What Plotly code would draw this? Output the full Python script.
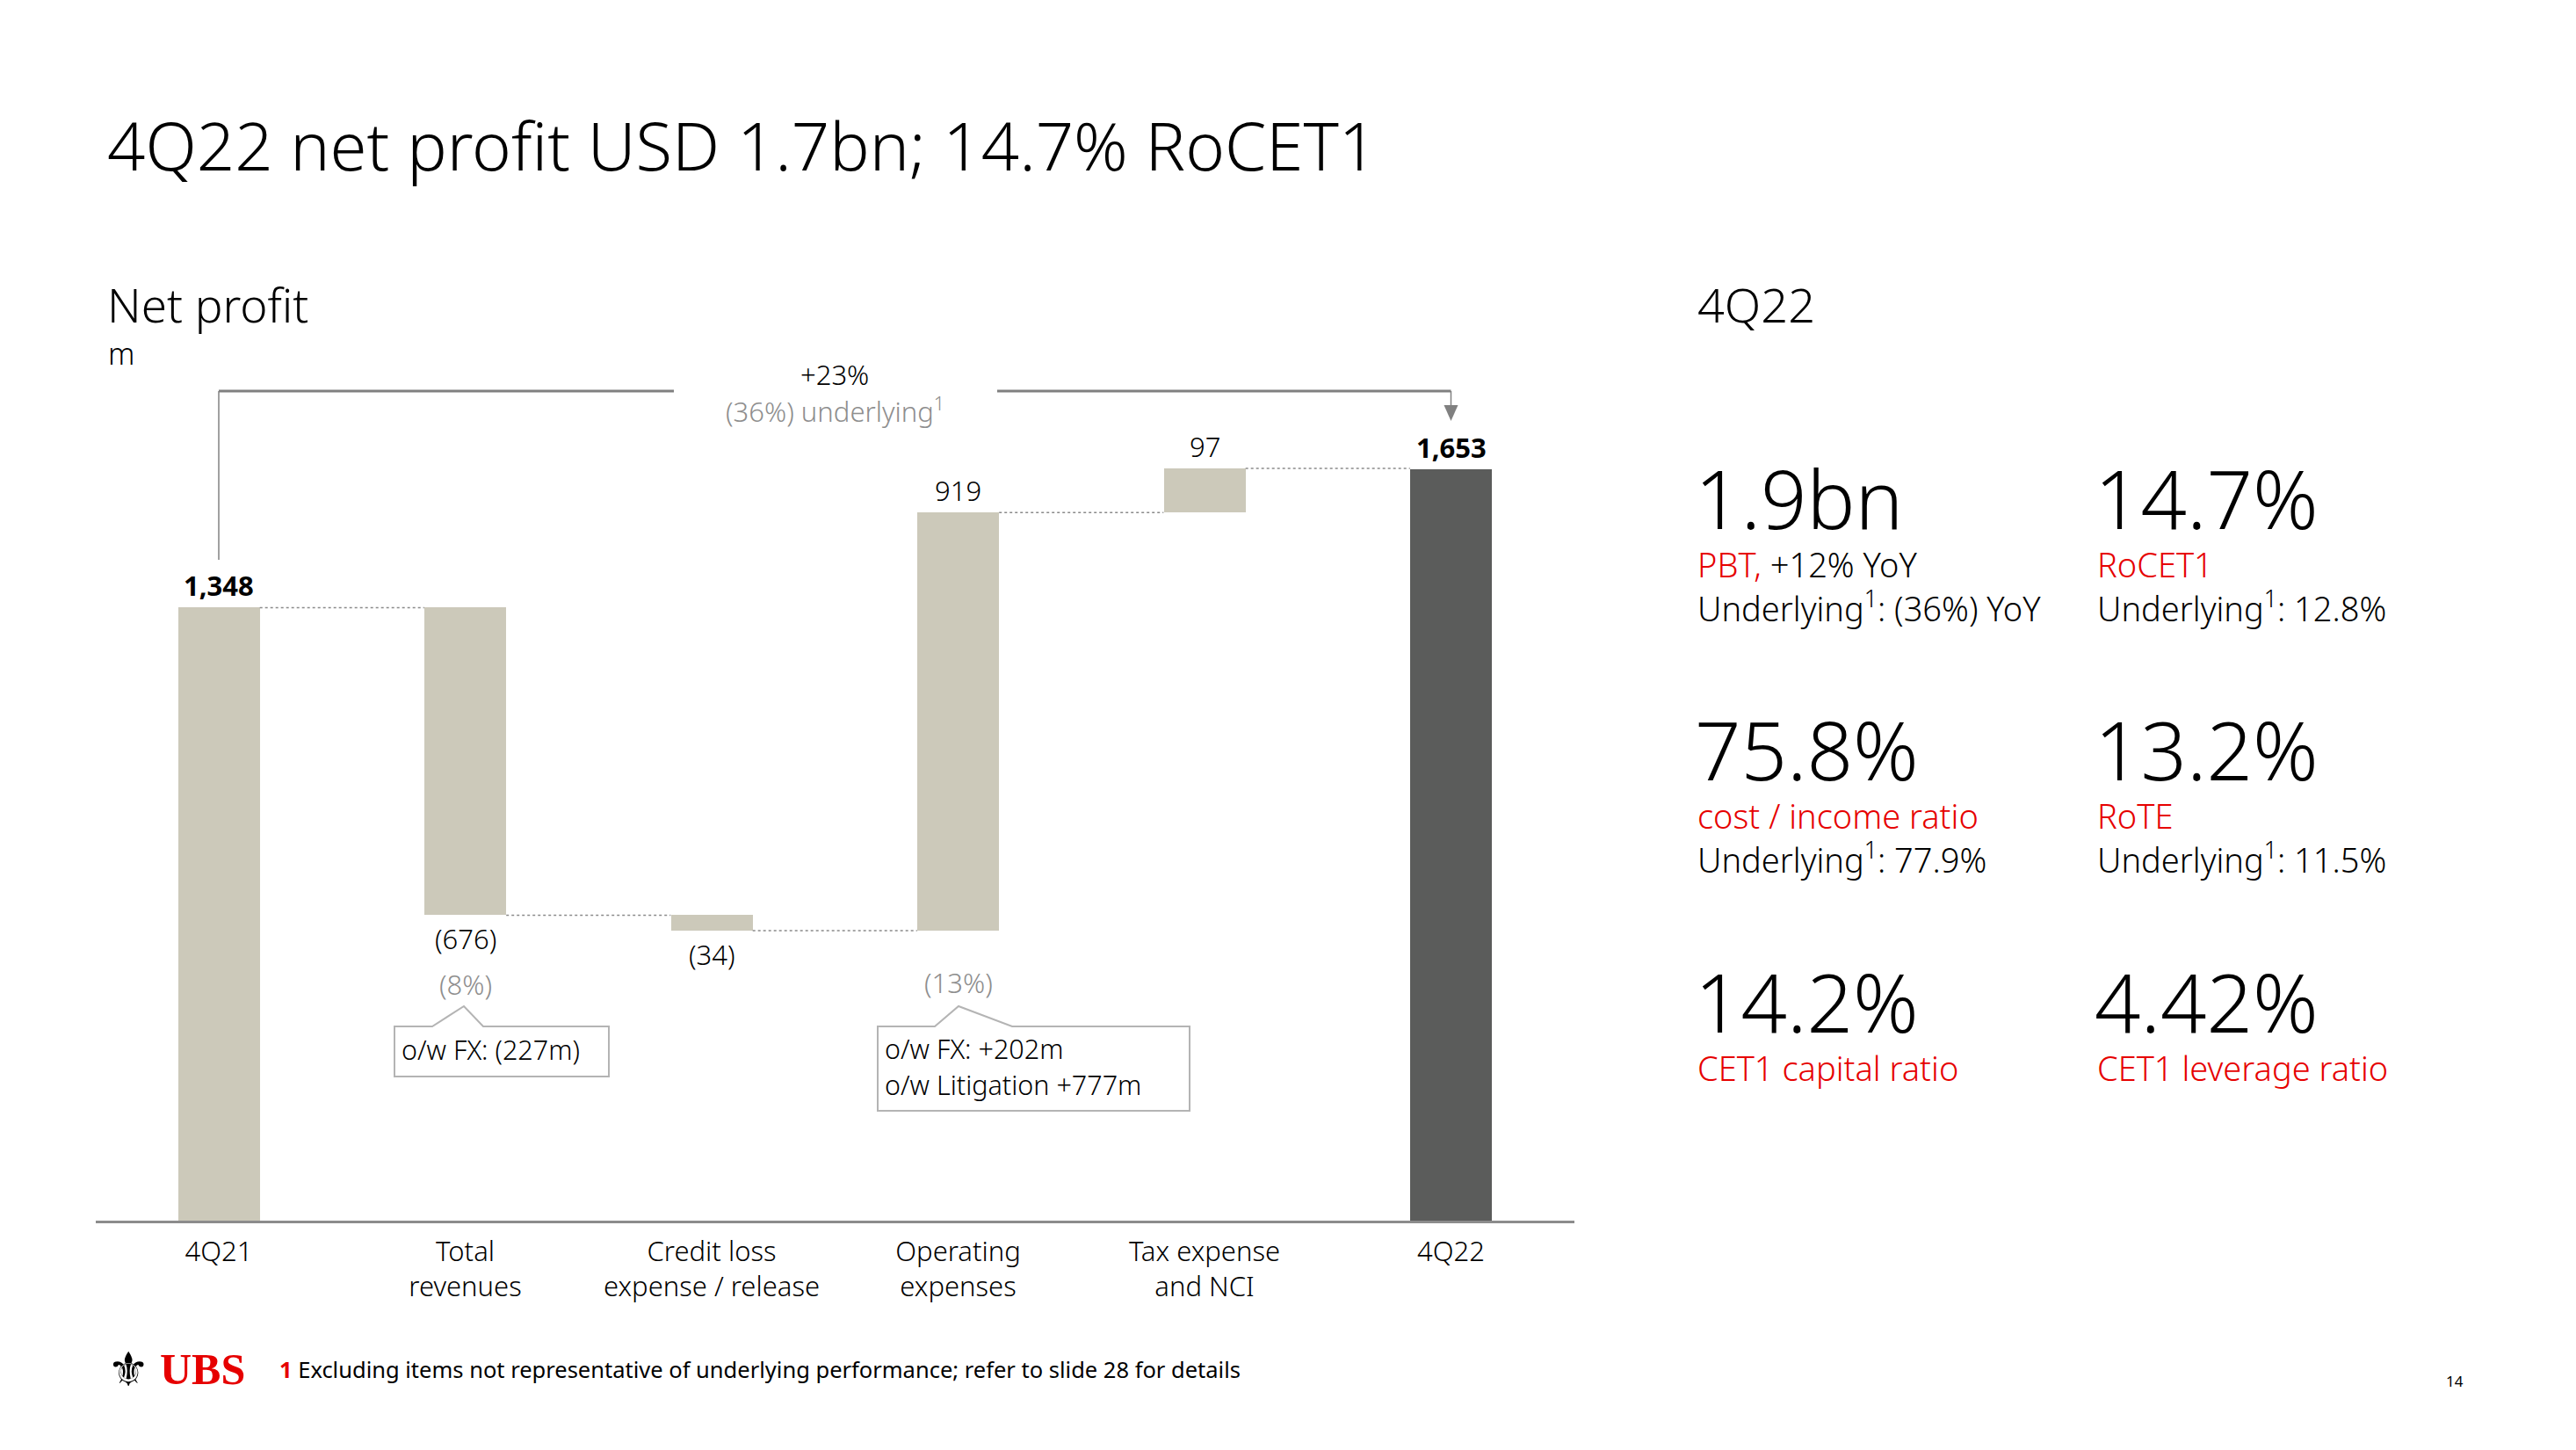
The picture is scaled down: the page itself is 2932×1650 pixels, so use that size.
import plotly.graph_objects as go

W, H = 2932, 1650

# ---------------- data ----------------
categories = ["4Q21", "Total<br>revenues", "Credit loss<br>expense / release",
              "Operating<br>expenses", "Tax expense<br>and NCI", "4Q22"]
start_value = 1348
changes = [-676, -34, 919, 97]
end_value = 1653
value_labels = ["1,348", "(676)", "(34)", "919", "97", "1,653"]
bold_labels = [True, False, False, False, False, True]
pct_labels = {1: "(8%)", 3: "(13%)"}
growth_label = "+23%"
growth_underlying = "(36%) underlying<sup>1</sup>"

kpi_values = ["1.9bn", "14.7%", "75.8%", "13.2%", "14.2%", "4.42%"]
kpi_line1 = ["<span style='color:#E60000'>PBT,</span> +12% YoY", "RoCET1",
             "cost / income ratio", "RoTE", "CET1 capital ratio", "CET1 leverage ratio"]
kpi_line1_red = [False, True, True, True, True, True]
kpi_line2 = ["Underlying<sup>1</sup>: (36%) YoY", "Underlying<sup>1</sup>: 12.8%",
             "Underlying<sup>1</sup>: 77.9%", "Underlying<sup>1</sup>: 11.5%", "", ""]

# ---------------- style ----------------
FONT = "Noto Sans"
LIGHT = 300
BEIGE = "#CCC9BA"
DARK = "#5B5C5B"
RED = "#E60000"
GREY_TXT = "#8E8E8E"
LINE_GREY = "#808080"


def px(x):
    return x / W


def py(y):
    return 1 - y / H


def f(size, color="#000", weight=LIGHT, family=FONT):
    return dict(size=size, color=color, family=family, weight=weight)


# derived waterfall geometry from data
levels = [start_value]
for c in changes:
    levels.append(levels[-1] + c)
bases = [0] + [min(levels[i], levels[i + 1]) for i in range(len(changes))] + [0]
heights = [start_value] + [abs(c) for c in changes] + [end_value]
tops = [b + h for b, h in zip(bases, heights)]
is_neg = [False] + [c < 0 for c in changes] + [False]
colors = [BEIGE] * (len(categories) - 1) + [DARK]
BAR_W = 0.333

x_dom = [108.75 / W, 1791.75 / W]
y_dom = [1 - 1389.4 / H, 1 - 400 / H]
y_max = 1911

fig = go.Figure()
fig.add_trace(go.Bar(
    x=list(range(len(categories))), y=heights, base=bases, width=BAR_W,
    marker=dict(color=colors, line=dict(width=0)),
    hoverinfo="skip", showlegend=False,
))

shapes = []
annotations = []

# connectors
for i in range(len(levels)):
    shapes.append(dict(type="line", xref="x", yref="y",
                       x0=i + BAR_W / 2, x1=i + 1 - BAR_W / 2,
                       y0=levels[i], y1=levels[i],
                       line=dict(color="#8A8A8A", width=1.5, dash="dot")))

# value labels
for i, lab in enumerate(value_labels):
    txt = f"<b>{lab}</b>" if bold_labels[i] else lab
    wt = 700 if bold_labels[i] else LIGHT
    if is_neg[i]:
        annotations.append(dict(x=i, y=bases[i], xref="x", yref="y", text=txt,
                                showarrow=False, yanchor="top", yshift=-4,
                                xanchor="center", font=f(31, weight=wt)))
    else:
        annotations.append(dict(x=i, y=tops[i], xref="x", yref="y", text=txt,
                                showarrow=False, yanchor="bottom", yshift=2,
                                xanchor="center", font=f(31, weight=wt)))

# percentage labels (grey)
pct_shift = {1: -56, 3: -36}
for i, lab in pct_labels.items():
    annotations.append(dict(x=i, y=bases[i], xref="x", yref="y", text=lab,
                            showarrow=False, yanchor="top", yshift=pct_shift[i],
                            xanchor="center", font=f(31, GREY_TXT)))


# callout boxes
def callout(x0, x1, y0, y1, nl, apex, nr):
    path = (f"M {px(x0)},{py(y0)} L {px(nl)},{py(y0)} L {px(apex)},{py(y0 - 23)} "
            f"L {px(nr)},{py(y0)} L {px(x1)},{py(y0)} L {px(x1)},{py(y1)} "
            f"L {px(x0)},{py(y1)} Z")
    return dict(type="path", xref="paper", yref="paper", path=path,
                line=dict(color="#B4B4B4", width=2), fillcolor="white")


shapes.append(callout(449, 693, 1168, 1225, 492, 528, 550))
shapes.append(callout(999, 1354, 1168, 1264, 1064, 1091, 1152))
annotations.append(dict(x=px(455), y=py(1194), xref="paper", yref="paper",
                        text="o/w FX: (227m)", showarrow=False, xanchor="left",
                        yanchor="middle", font=f(30.5)))
annotations.append(dict(x=px(1005), y=py(1193), xref="paper", yref="paper",
                        text="o/w FX: +202m", showarrow=False, xanchor="left",
                        yanchor="middle", font=f(30.5)))
annotations.append(dict(x=px(1005), y=py(1234), xref="paper", yref="paper",
                        text="o/w Litigation +777m", showarrow=False, xanchor="left",
                        yanchor="middle", font=f(30.5)))

# growth bracket
x_first = x_dom[0] + (x_dom[1] - x_dom[0]) / 12
x_last = x_dom[0] + (x_dom[1] - x_dom[0]) * 11 / 12
shapes.append(dict(type="line", xref="paper", yref="paper", x0=x_first, x1=x_first,
                   y0=py(637), y1=py(445), line=dict(color=LINE_GREY, width=1.5)))
shapes.append(dict(type="line", xref="paper", yref="paper", x0=x_first, x1=px(767),
                   y0=py(445), y1=py(445), line=dict(color=LINE_GREY, width=3)))
shapes.append(dict(type="line", xref="paper", yref="paper", x0=px(1135), x1=x_last,
                   y0=py(445), y1=py(445), line=dict(color=LINE_GREY, width=3)))
shapes.append(dict(type="line", xref="paper", yref="paper", x0=x_last, x1=x_last,
                   y0=py(445), y1=py(462), line=dict(color=LINE_GREY, width=1.5)))
xl = x_last * W
shapes.append(dict(type="path", xref="paper", yref="paper",
                   path=f"M {px(xl - 8)},{py(461)} L {px(xl + 8)},{py(461)} L {px(xl)},{py(479)} Z",
                   line=dict(color=LINE_GREY, width=0), fillcolor=LINE_GREY))
annotations.append(dict(x=px(950), y=py(426), xref="paper", yref="paper",
                        text=growth_label, showarrow=False, xanchor="center", yanchor="middle",
                        font=f(31)))
annotations.append(dict(x=px(950), y=py(466), xref="paper", yref="paper",
                        text=growth_underlying, showarrow=False, xanchor="center",
                        yanchor="middle", font=f(31, GREY_TXT)))

# titles
annotations.append(dict(x=px(120), y=py(165), xref="paper", yref="paper",
                        text="4Q22 net profit USD 1.7bn; 14.7% RoCET1", showarrow=False,
                        xanchor="left", yanchor="middle", font=f(76)))
annotations.append(dict(x=px(120), y=py(346), xref="paper", yref="paper",
                        text="Net profit", showarrow=False, xanchor="left", yanchor="middle",
                        font=f(53)))
annotations.append(dict(x=px(121), y=py(402), xref="paper", yref="paper",
                        text="m", showarrow=False, xanchor="left", yanchor="middle",
                        font=f(34)))
annotations.append(dict(x=px(1930), y=py(346), xref="paper", yref="paper",
                        text="4Q22", showarrow=False, xanchor="left", yanchor="middle",
                        font=f(54)))

# KPI panel
col_x = [1927, 2382]
row_y = [566, 852, 1139]
for k, val in enumerate(kpi_values):
    cx = col_x[k % 2]
    ry = row_y[k // 2]
    annotations.append(dict(x=px(cx), y=py(ry), xref="paper", yref="paper", text=val,
                            showarrow=False, xanchor="left", yanchor="middle",
                            font=f(92)))
    annotations.append(dict(x=px(cx + 3), y=py(ry + 76), xref="paper", yref="paper",
                            text=kpi_line1[k], showarrow=False, xanchor="left", yanchor="middle",
                            font=f(38, RED if kpi_line1_red[k] else "#000")))
    if kpi_line2[k]:
        annotations.append(dict(x=px(cx + 3), y=py(ry + 124), xref="paper", yref="paper",
                                text=kpi_line2[k], showarrow=False, xanchor="left",
                                yanchor="middle", font=f(38)))

# footer
annotations.append(dict(x=px(120), y=py(1558), xref="paper", yref="paper", text="⚜",
                        showarrow=False, xanchor="left", yanchor="middle",
                        font=dict(size=54, color="#000", family="DejaVu Sans")))
annotations.append(dict(x=px(180), y=py(1558), xref="paper", yref="paper", text="<b>UBS</b>",
                        showarrow=False, xanchor="left", yanchor="middle",
                        font=dict(size=50, color=RED, family="Liberation Serif", weight=700)))
annotations.append(dict(x=px(316), y=py(1558), xref="paper", yref="paper",
                        text="<span style='color:#E60000'><b>1</b></span> Excluding items not representative of underlying performance; refer to slide 28 for details",
                        showarrow=False, xanchor="left", yanchor="middle",
                        font=f(25.5, weight=400)))
annotations.append(dict(x=px(2794), y=py(1571), xref="paper", yref="paper", text="14",
                        showarrow=False, xanchor="center", yanchor="middle",
                        font=f(17, weight=400)))

fig.update_layout(
    width=W, height=H,
    margin=dict(l=0, r=0, t=0, b=0),
    paper_bgcolor="white", plot_bgcolor="white",
    showlegend=False,
    bargap=0,
    xaxis=dict(domain=x_dom, range=[-0.5, len(categories) - 0.5],
               tickmode="array", tickvals=list(range(len(categories))), ticktext=categories,
               showline=True, linecolor="#8C8C8C", linewidth=3,
               ticks="outside", ticklen=5, tickcolor="rgba(0,0,0,0)",
               showgrid=False, zeroline=False,
               tickfont=f(31), fixedrange=True),
    yaxis=dict(domain=y_dom, range=[0, y_max], visible=False, showgrid=False,
               zeroline=False, fixedrange=True),
    shapes=shapes,
    annotations=annotations,
)

fig.write_html("out.html", config={"displayModeBar": False},
               post_script="document.body.style.margin='0px';document.body.style.overflow='hidden';")
